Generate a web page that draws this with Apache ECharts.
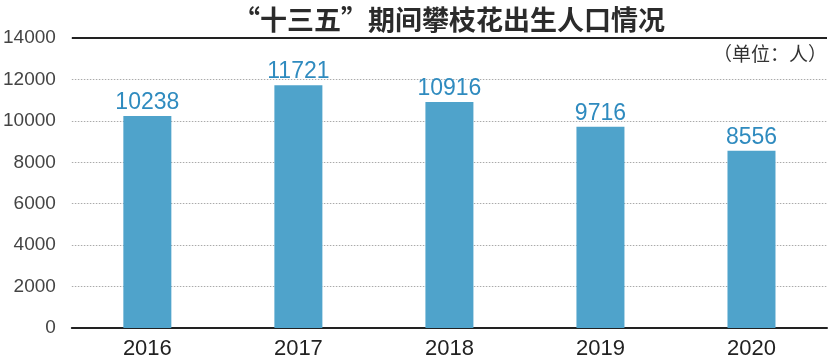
<!DOCTYPE html>
<html><head><meta charset="utf-8">
<script src="https://cdn.jsdelivr.net/npm/echarts@6/dist/echarts.min.js"></script>
<style>html,body{margin:0;padding:0;background:#fff}#c{width:831px;height:360px}</style>
</head><body><div id="c"></div>
<script>
const categories = ['2016','2017','2018','2019','2020'];
const births = [10238, 11721, 10916, 9716, 8556];
const yTicks = [0, 2000, 4000, 6000, 8000, 10000, 12000, 14000];
const titleText = '“十三五”期间攀枝花出生人口情况';
const unitText = '（单位：人）';

const chart = echarts.init(document.getElementById('c'));
chart.setOption({
  animation: false,
  title: {
    text: titleText, left: 228, top: 1,
    textStyle: {fontFamily: 'Noto Sans CJK SC', fontSize: 27, fontWeight: 'bold', color: '#2b2b2b'}
  },
  graphic: [{
    type: 'text', right: 4, top: 44,
    style: {text: unitText, font: '19px "Noto Sans CJK SC"', fill: '#333'}
  }],
  grid: {left: 70, right: 4, top: 38, bottom: 29, containLabel: false},
  xAxis: {
    type: 'category', data: categories,
    axisLine: {lineStyle: {color: '#222', width: 2}},
    axisTick: {show: false},
    axisLabel: {fontFamily: 'Liberation Sans', fontSize: 22, color: '#222', margin: 10}
  },
  yAxis: {
    type: 'value', min: 0, max: yTicks[yTicks.length-1], interval: 2000,
    axisLine: {show: false}, axisTick: {show: false},
    axisLabel: {fontFamily: 'Liberation Sans', fontSize: 19, color: '#444', margin: 16,
      formatter: v => String(v)},
    splitLine: {lineStyle: {color: '#aaa', type: [1.5, 1.5], width: 1}}
  },
  series: [{
    type: 'bar', data: births, barWidth: 48,
    itemStyle: {color: '#4fa3cb'},
    label: {show: true, position: 'top', distance: 2, fontFamily: 'Liberation Sans', fontSize: 23, color: '#2f8bbf'}
  }, {
    type: 'line', data: [], markLine: {
      silent: true, symbol: 'none', label: {show: false},
      lineStyle: {color: '#222', width: 2, type: 'solid'},
      data: [{yAxis: 14000}]
    }
  }]
});
</script></body></html>
